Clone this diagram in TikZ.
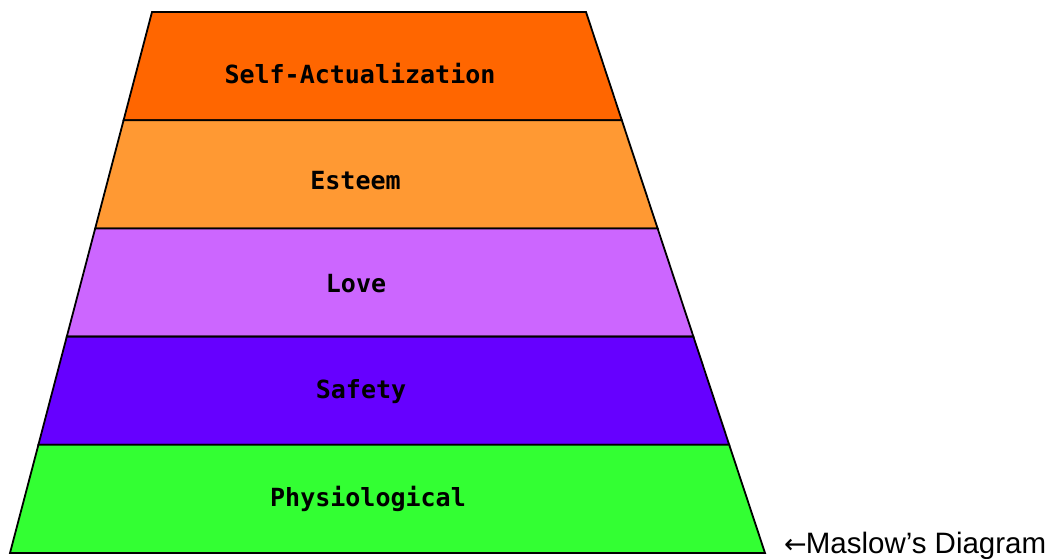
\documentclass[tikz,border=0pt]{standalone}
\usepackage{fontspec}
\setmainfont{Liberation Sans}
\newfontfamily\pixfont{DejaVu Sans Mono}
\newfontfamily\arrowfont{DejaVu Sans}
\definecolor{cself}{HTML}{FF6600}
\definecolor{cesteem}{HTML}{FF9933}
\definecolor{clove}{HTML}{CC66FF}
\definecolor{csafety}{HTML}{6600FF}
\definecolor{cphys}{HTML}{33FF33}
\tikzset{
  band/.style={draw=black, line width=1.8pt, line join=miter},
  lvl/.style={anchor=base, inner sep=0pt, font=\pixfont\bfseries\fontsize{25}{25}\selectfont, text=black},
  captiontext/.style={anchor=base west, inner sep=0pt, font=\fontsize{29.5}{30}\selectfont, text=black}
}
\begin{document}
\begin{tikzpicture}[x=1pt,y=-1pt]
\useasboundingbox (0,0) rectangle (1054,558);
% boundary coordinates
\coordinate (l0) at (152,12);    \coordinate (r0) at (586,12);
\coordinate (l1) at (123.6,120.2); \coordinate (r1) at (621.8,120.2);
\coordinate (l2) at (95.2,228.4);  \coordinate (r2) at (657.6,228.4);
\coordinate (l3) at (66.8,336.6);  \coordinate (r3) at (693.4,336.6);
\coordinate (l4) at (38.4,444.8);  \coordinate (r4) at (729.2,444.8);
\coordinate (l5) at (10,553);      \coordinate (r5) at (765,553);
% bands
\filldraw[band, fill=cself]   (l0) -- (r0) -- (r1) -- (l1) -- cycle;
\filldraw[band, fill=cesteem] (l1) -- (r1) -- (r2) -- (l2) -- cycle;
\filldraw[band, fill=clove]   (l2) -- (r2) -- (r3) -- (l3) -- cycle;
\filldraw[band, fill=csafety] (l3) -- (r3) -- (r4) -- (l4) -- cycle;
\filldraw[band, fill=cphys]   (l4) -- (r4) -- (r5) -- (l5) -- cycle;
% labels
\node[lvl] (self)   at (360,83)  {Self-Actualization};
\node[lvl] (esteem) at (355.5,189) {Esteem};
\node[lvl] (love)   at (356,292) {Love};
\node[lvl] (safety) at (361,398) {Safety};
\node[lvl] (phys)   at (368,506) {Physiological};
\node[captiontext] (caption) at (784,553) {{\arrowfont\fontsize{27}{30}\selectfont ←}\kern-1pt Maslow’s Diagram};
\end{tikzpicture}
\end{document}
